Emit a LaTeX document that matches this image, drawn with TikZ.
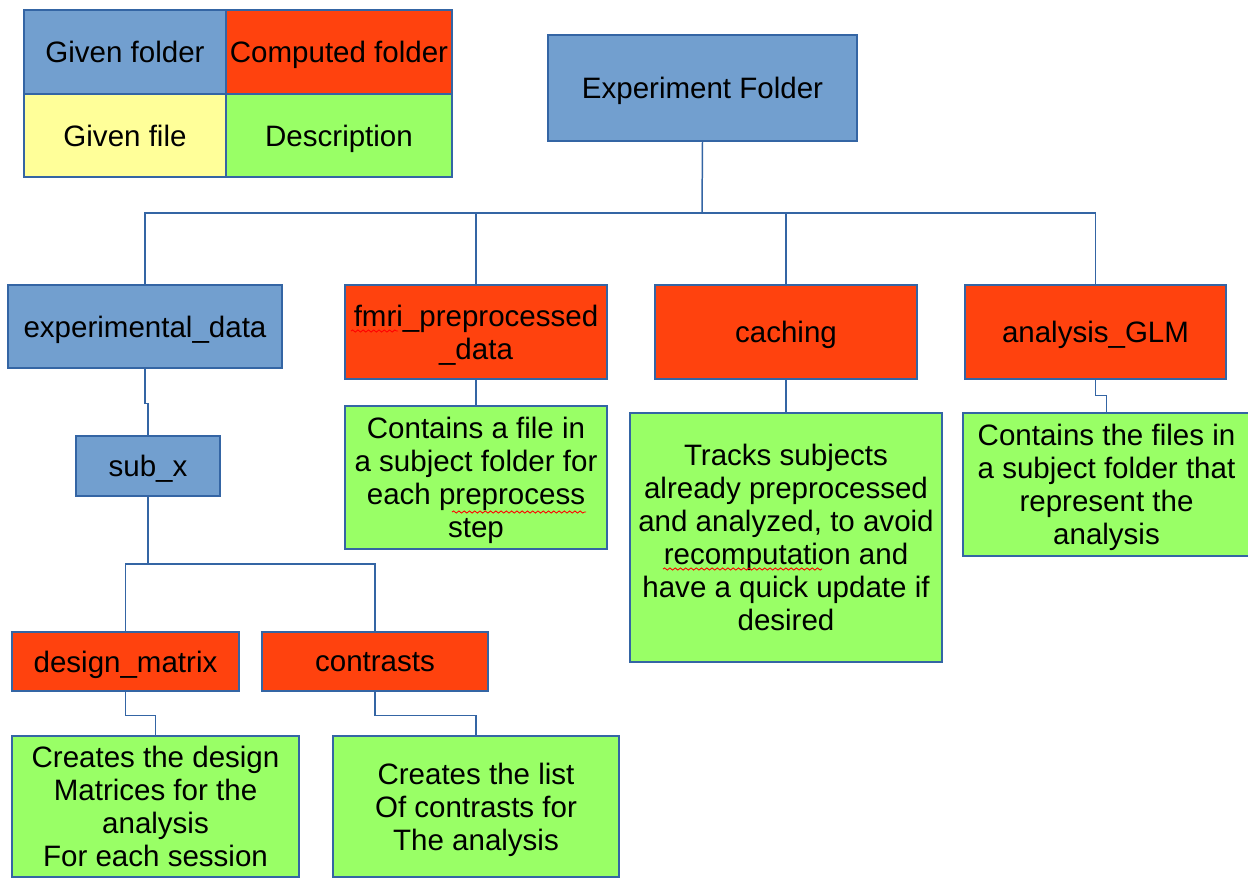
\documentclass[tikz,border=0pt]{standalone}
\usepackage{fontspec}
\setmainfont{Liberation Sans}
\usetikzlibrary{decorations.pathmorphing}
\definecolor{givenblue}{HTML}{729FCF}
\definecolor{computedred}{HTML}{FF420E}
\definecolor{fileyellow}{HTML}{FFFF99}
\definecolor{descgreen}{HTML}{99FF66}
\definecolor{edgeblue}{HTML}{3465A4}
\tikzset{
  box/.style={draw=edgeblue, line width=0.7pt, inner sep=0pt, align=center,
    text depth=0pt, font=\fontsize{16.8pt}{18.8pt}\selectfont},
  given/.style={box, fill=givenblue},
  computed/.style={box, fill=computedred},
  gfile/.style={box, fill=fileyellow},
  desc/.style={box, fill=descgreen},
  link/.style={draw=edgeblue, line width=0.85pt},
  spell/.style={draw=red, line width=0.5pt, decorate,
    decoration={snake, amplitude=0.6pt, segment length=3pt}}
}
% \bx{name}{x1}{y1}{x2}{y2}{style}{text}: a box given by its corners in pixel units
\newcommand\bx[7]{%
  \node[#6, minimum width={(#4-#2)*0.02cm}, minimum height={(#5-#3)*0.02cm}]
    (#1) at ({(#2+#4)/2},{(#3+#5)/2}) {#7};}
\begin{document}
\begin{tikzpicture}[x=0.02cm, y=-0.02cm]
\useasboundingbox (0,0) rectangle (1248,877);
\clip (0,0) rectangle (1248,877);
\fill[white] (0,0) rectangle (1248,877);

% legend
\bx{lgf}{24}{10}{226}{94}{given}{Given folder}
\bx{lcf}{226}{10}{452}{94}{computed}{Computed folder}
\bx{lfile}{24}{94}{226}{177}{gfile}{Given file}
\bx{ldesc}{226}{94}{452}{177}{desc}{Description}

% top level
\bx{exp}{548}{35}{857}{141}{given}{Experiment Folder}

% second level
\bx{expdata}{8}{285}{282}{368}{given}{experimental\_data}
\bx{fmri}{345}{285}{607}{379}{computed}{fmri\_preprocessed\\\_data}
\bx{cach}{655}{285}{917}{379}{computed}{caching}
\bx{glm}{965}{285}{1226}{379}{computed}{analysis\_GLM}

% descriptions of the second level
\bx{fmrid}{345}{406}{607}{549}{desc}{Contains a file in\\a subject folder for\\each preprocess\\step}
\bx{cachd}{630}{413}{942}{662}{desc}{Tracks subjects\\already preprocessed\\and analyzed, to avoid\\recomputation and\\have a quick update if\\desired}
\bx{glmd}{963}{413}{1250}{556}{desc}{Contains the files in\\a subject folder that\\represent the\\analysis}

% subject level
\bx{subx}{76}{436}{220}{496}{given}{sub\_x}
\bx{dm}{12}{632}{239}{691}{computed}{design\_matrix}
\bx{con}{262}{632}{488}{691}{computed}{contrasts}
\bx{dmd}{12}{736}{299}{877}{desc}{Creates the design\\Matrices for the\\analysis\\For each session}
\bx{cond}{333}{736}{619}{877}{desc}{Creates the list\\Of contrasts for\\The analysis}

% tree connectors
\coordinate (bus) at (702,213);
\coordinate (split) at (148,564);
\draw[link] (exp.south) -- (bus);
\draw[link] (expdata.north) |- (bus);
\draw[link] (fmri.north) |- (bus);
\draw[link] (cach.north) |- (bus);
\draw[link] (glm.north) |- (bus);
\draw[link] (expdata.south) -- ++(0,35) -| (subx.north);
\draw[link] (subx.south) -- (split);
\draw[link] (dm.north) |- (split);
\draw[link] (con.north) |- (split);
\draw[link] (fmri.south) -- (fmrid.north);
\draw[link] (cach.south) -- ++(0,16) -| (cachd.north);
\draw[link] (glm.south) -- ++(0,16) -| (glmd.north);
\draw[link] (dm.south) -- ++(0,24) -| (dmd.north);
\draw[link] (con.south) -- ++(0,24) -| (cond.north);

% spell-check marks under flagged words
\draw[spell] (351,331) -- (398,331);
\draw[spell] (452,512) -- (586,512);
\draw[spell] (663,569) -- (822,569);
\end{tikzpicture}
\end{document}
